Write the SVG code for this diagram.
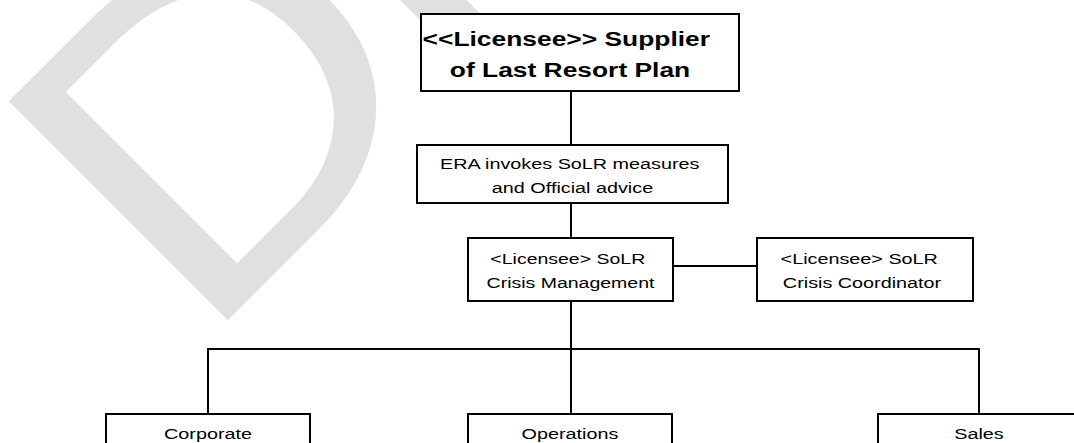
<svg xmlns="http://www.w3.org/2000/svg" width="1074" height="443" viewBox="0 0 1074 443">
  <style>
    .box { fill: #ffffff; stroke: #000000; stroke-width: 2; }
    .wire { fill: none; stroke: #000000; stroke-width: 2; }
    .t { font-family: "Liberation Sans", Arial, sans-serif; font-size: 15px; fill: #000000; text-anchor: middle; }
    .tb { font-family: "Liberation Sans", Arial, sans-serif; font-size: 20px; font-weight: bold; fill: #000000; text-anchor: middle; }
    .mark { font-family: "Liberation Sans", Arial, sans-serif; font-size: 450px; fill: #e0e0e0; }
  </style>
  <rect width="1074" height="443" fill="#ffffff"/>

  <!-- diagonal draft watermark, sitting behind the chart -->
  <text class="mark" transform="translate(198.5 349.5) rotate(-45) scale(1.12 1)">D<tspan dx="-14">R</tspan></text>

  <!-- connectors -->
  <g id="connectors">
    <line class="wire" x1="571" y1="91" x2="571" y2="145"/>
    <line class="wire" x1="571" y1="203" x2="571" y2="238"/>
    <line class="wire" x1="673" y1="266" x2="757" y2="266"/>
    <line class="wire" x1="571" y1="301" x2="571" y2="414"/>
    <polyline class="wire" points="208,414 208,349 979,349 979,414"/>
  </g>

  <g id="plan">
    <rect class="box" x="421" y="14" width="318" height="77"/>
    <text class="tb" transform="translate(570 46) scale(1.32 1)">
      <tspan x="0" y="0">&lt;&lt;Licensee&gt;&gt; Supplier</tspan>
      <tspan x="0" y="31">of Last Resort Plan</tspan>
    </text>
  </g>

  <g id="era">
    <rect class="box" x="417" y="145" width="311" height="58"/>
    <text class="t" transform="translate(572.5 169) scale(1.32 1)">
      <tspan x="0" y="0">ERA invokes SoLR measures</tspan>
      <tspan x="0" y="24">and Official advice</tspan>
    </text>
  </g>

  <g id="crisis-management">
    <rect class="box" x="468" y="238" width="205" height="63"/>
    <text class="t" transform="translate(570.5 264) scale(1.3 1)">
      <tspan x="0" y="0">&lt;Licensee&gt; SoLR</tspan>
      <tspan x="0" y="24">Crisis Management</tspan>
    </text>
  </g>

  <g id="crisis-coordinator">
    <rect class="box" x="757" y="238" width="216" height="63"/>
    <text class="t" transform="translate(862 264) scale(1.32 1)">
      <tspan x="0" y="0">&lt;Licensee&gt; SoLR</tspan>
      <tspan x="0" y="24">Crisis Coordinator</tspan>
    </text>
  </g>

  <g id="corporate">
    <rect class="box" x="106" y="414" width="204" height="60"/>
    <text class="t" transform="translate(208 439) scale(1.32 1)">Corporate</text>
  </g>

  <g id="operations">
    <rect class="box" x="468" y="414" width="204" height="60"/>
    <text class="t" transform="translate(570 439) scale(1.32 1)">Operations</text>
  </g>

  <g id="sales">
    <rect class="box" x="878" y="414" width="204" height="60"/>
    <text class="t" transform="translate(979 439) scale(1.32 1)">Sales</text>
  </g>
</svg>
